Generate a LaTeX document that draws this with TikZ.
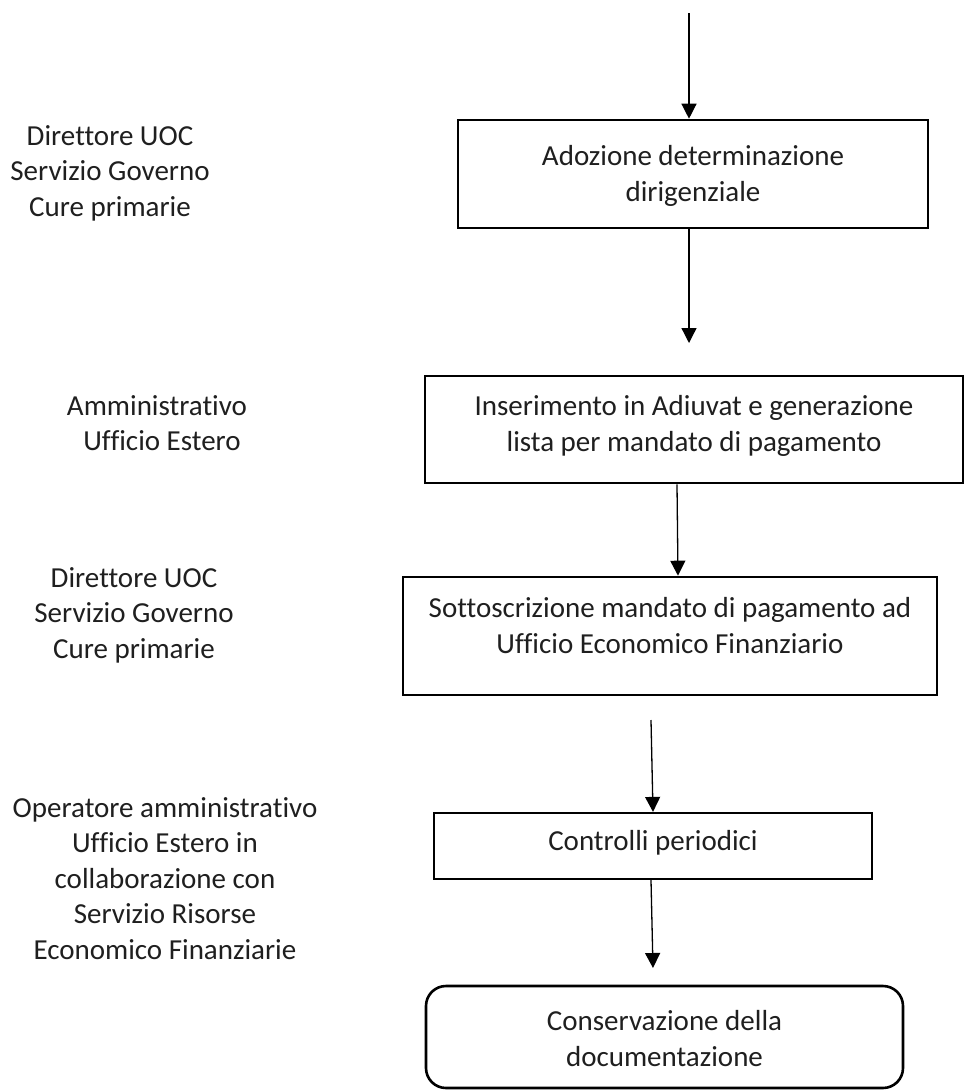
\documentclass[tikz,border=0pt]{standalone}
\usepackage{fontspec}
\setmainfont{Carlito}[Ligatures=NoCommon]
\usetikzlibrary{arrows.meta}

% fixed first-line height and adjustable last-line depth for text blocks
\newcommand{\topstrut}{\rule{0pt}{24pt}}
\newcommand{\botstrut}[1]{\rule[-#1pt]{0pt}{#1pt}}

\tikzset{
  txt/.style={font=\fontsize{29}{35.5}\selectfont, text=black!88, align=center},
  stepbox/.style={txt, draw=black, line width=2.6pt, inner sep=0pt, rectangle},
  rolelabel/.style={txt, anchor=north, inner sep=0pt},
  arr/.style={line width=1.3pt, -{Triangle[length=15pt,width=15pt]}}
}

\begin{document}
\begin{tikzpicture}[x=1pt,y=-1pt]
  \fill[white] (0,0) rectangle (965,1090);
  \useasboundingbox (0,0) rectangle (965,1090);

  % process steps
  \node[stepbox, minimum width=470pt, minimum height=108pt] (b1) at (693,174)
    {\topstrut Adozione determinazione\\ dirigenziale\botstrut{5}};
  \node[stepbox, minimum width=538pt, minimum height=107pt] (b2) at (694,429.5)
    {\topstrut Inserimento in Adiuvat e generazione\\ lista per mandato di pagamento\botstrut{16}};
  \node[stepbox, minimum width=534pt, minimum height=118pt] (b3) at (670,636)
    {\topstrut Sottoscrizione mandato di pagamento ad\\ Ufficio Economico Finanziario\botstrut{25}};
  \node[stepbox, line width=2.2pt, minimum width=438pt, minimum height=66pt] (b4) at (653,846)
    {\topstrut Controlli periodici\botstrut{16}};
  \node[stepbox, rounded corners=20pt, minimum width=477pt, minimum height=102pt] (b5) at (664.5,1037)
    {\topstrut Conservazione della\\ documentazione\botstrut{1}};

  % responsible roles
  \node[rolelabel] (r1) at (110,121)
    {\topstrut Direttore UOC\\ Servizio Governo\\ Cure primarie};
  \node[rolelabel] (r2) at (157,391)
    {\topstrut Amministrativo\\ \hspace*{10pt}Ufficio Estero};
  \node[rolelabel] (r3) at (134,563)
    {\topstrut Direttore UOC\\ Servizio Governo\\ Cure primarie};
  \node[rolelabel] (r4) at (165,793)
    {\topstrut Operatore amministrativo\\ Ufficio Estero in\\ collaborazione con\\ Servizio Risorse\\ Economico Finanziarie};

  % flow arrows
  \coordinate (in1) at (689,13);
  \coordinate (tip2) at (689,343);
  \coordinate (from4) at (651,720);
  \coordinate (tip5) at (653,968);

  \draw[arr] (in1) -- (in1 |- b1.north);
  \draw[arr] (tip2 |- b1.south) -- (tip2);
  \draw[arr] ([xshift=-17pt]b2.south) -- ([xshift=8pt]b3.north);
  \draw[arr] (from4) -- (b4.north);
  \draw[arr] ([xshift=-2pt]b4.south) -- (tip5);
\end{tikzpicture}
\end{document}
